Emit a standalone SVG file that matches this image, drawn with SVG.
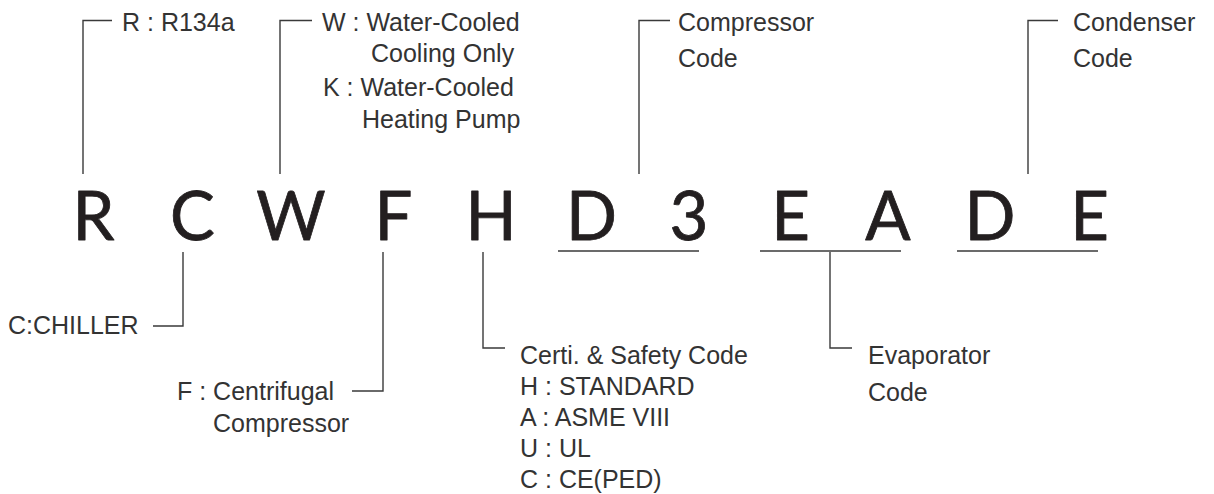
<svg xmlns="http://www.w3.org/2000/svg" width="1214" height="494" viewBox="0 0 1214 494">
<style>
.t{font-family:"Liberation Sans",Arial,sans-serif;font-size:25px;fill:#333}
.big{font-family:Lato,"DejaVu Sans",sans-serif;font-size:67px;fill:#231f20;stroke:#231f20;stroke-width:0.8;stroke-linejoin:round;text-anchor:middle}
.ln{fill:none;stroke:#3a3a3a;stroke-width:1.4}
</style>
<rect width="1214" height="494" fill="#fff"/>
<g id="connectors">
<path class="ln" d="M112,20.5H83V174"/>
<path class="ln" d="M312,20.5H280V174"/>
<path class="ln" d="M670,20.5H639V174"/>
<path class="ln" d="M1058,20.5H1028V174"/>
<path class="ln" d="M558,251H699"/>
<path class="ln" d="M760,251H901"/>
<path class="ln" d="M957,251H1098"/>
<path class="ln" d="M183,252V326H153"/>
<path class="ln" d="M383,252V391H352"/>
<path class="ln" d="M483,252V348H505"/>
<path class="ln" d="M830,252V348H852"/>
</g>
<g id="code">
<text class="big" x="93.5" y="240">R</text>
<text class="big" x="192.5" y="240">C</text>
<text class="big" x="291" y="240">W</text>
<text class="big" x="393.5" y="240">F</text>
<text class="big" x="491" y="240">H</text>
<text class="big" x="591.5" y="240">D</text>
<text class="big" x="689" y="240">3</text>
<text class="big" x="790.5" y="240">E</text>
<text class="big" x="888" y="240">A</text>
<text class="big" x="990" y="240">D</text>
<text class="big" x="1089.5" y="240">E</text>
</g>
<g id="refrigerant"><text class="t" x="122" y="31">R : R134a</text></g>
<g id="type">
<text class="t" x="322" y="31">W : Water-Cooled</text>
<text class="t" x="371" y="62">Cooling Only</text>
<text class="t" x="323" y="96">K : Water-Cooled</text>
<text class="t" x="362" y="128">Heating Pump</text>
</g>
<g id="compressor-code"><text class="t" x="678" y="31">Compressor</text><text class="t" x="678" y="67">Code</text></g>
<g id="condenser-code"><text class="t" x="1073" y="31">Condenser</text><text class="t" x="1073" y="67">Code</text></g>
<g id="chiller"><text class="t" x="8" y="334">C:CHILLER</text></g>
<g id="centrifugal"><text class="t" x="177" y="400">F : Centrifugal</text><text class="t" x="213" y="432">Compressor</text></g>
<g id="safety">
<text class="t" x="520" y="364">Certi. &amp; Safety Code</text>
<text class="t" x="520" y="395">H : STANDARD</text>
<text class="t" x="520" y="426">A : ASME VIII</text>
<text class="t" x="520" y="457">U : UL</text>
<text class="t" x="520" y="488">C : CE(PED)</text>
</g>
<g id="evaporator-code"><text class="t" x="868" y="364">Evaporator</text><text class="t" x="868" y="401">Code</text></g>
</svg>
